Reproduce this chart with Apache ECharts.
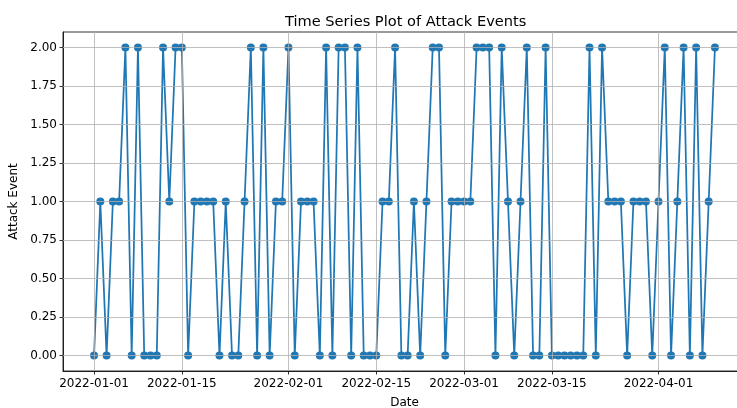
<!DOCTYPE html>
<html>
<head>
<meta charset="utf-8">
<script src="https://cdn.jsdelivr.net/npm/echarts@6/dist/echarts.min.js"></script>
<style>html,body{margin:0;padding:0;background:#fff;overflow:hidden}#c{width:737px;height:408px}</style>
</head>
<body>
<div id="c"></div>
<script>
var startDate = '2022-01-01';
var attackEvents = [0,1,0,1,1,2,0,2,0,0, 0,2,1,2,2,0,1,1,1,1, 0,1,0,0,1,2,0,2,0,1, 1,2,0,1,1,1,0,2,0,2, 2,0,2,0,0,0,1,1,2,0, 0,1,0,1,2,2,0,1,1,1, 1,2,2,2,0,2,1,0,1,2, 0,0,2,0,0,0,0,0,0,2, 0,2,1,1,1,0,1,1,1,0, 1,2,0,1,2,0,2,0,1,2];
var xTickLabels = ['2022-01-01','2022-01-15','2022-02-01','2022-02-15','2022-03-01','2022-03-15','2022-04-01'];
var yTickValues = [0,0.25,0.5,0.75,1,1.25,1.5,1.75,2];

var DAY = 86400000;
function ts(s){var p=s.split('-');return Date.UTC(+p[0],+p[1]-1,+p[2]);}
function fmt(v){var d=new Date(v);function z(n){return (n<10?'0':'')+n;}return d.getUTCFullYear()+'-'+z(d.getUTCMonth()+1)+'-'+z(d.getUTCDate());}
var t0 = ts(startDate);
var data = attackEvents.map(function(v,i){return [t0+i*DAY, v];});
var span = (attackEvents.length-1)*DAY;
var xMin = t0 - 0.05*span, xMax = t0 + span + 0.05*span;
var xTicks = xTickLabels.map(ts);
var font = 'DejaVu Sans';
var fs = 12;
var chart = echarts.init(document.getElementById('c'), null, {renderer:'canvas'});
chart.setOption({
  animation:false,
  title:{text:'Time Series Plot of Attack Events', left:280, top:10,
    textStyle:{fontFamily:font, fontSize:14.6, fontWeight:'normal', color:'#000'}},
  grid:{left:63, top:32, right:-9, bottom:37, outerBoundsMode:'none', containLabel:false,
    show:true, borderColor:'#000', borderWidth:0.8},
  xAxis:{type:'value', min:xMin, max:xMax,
    name:'Date', nameLocation:'middle', nameGap:26,
    nameTextStyle:{fontFamily:font, fontSize:fs, color:'#000'},
    axisLine:{show:true, onZero:false, lineStyle:{color:'#000', width:0.8}},
    axisTick:{show:true, length:3.5, customValues:xTicks, lineStyle:{color:'#000', width:0.8}},
    axisLabel:{customValues:xTicks, formatter:function(v){return fmt(v);}, fontFamily:font, fontSize:fs, color:'#000', margin:7},
    splitLine:{show:false}},
  yAxis:{type:'value', min:-0.1, max:2.1,
    name:'Attack Event', nameLocation:'middle', nameGap:41,
    nameTextStyle:{fontFamily:font, fontSize:fs, color:'#000'},
    axisLine:{show:true, onZero:false, lineStyle:{color:'#000', width:0.8}},
    axisTick:{show:true, length:3.5, customValues:yTickValues, lineStyle:{color:'#000', width:0.8}},
    axisLabel:{customValues:yTickValues, formatter:function(v){return v.toFixed(2);}, fontFamily:font, fontSize:fs, color:'#000', margin:6},
    splitLine:{show:false}},
  series:[
    {type:'line', silent:true, data:[], markLine:{silent:true, symbol:'none', label:{show:false},
      lineStyle:{color:'#b0b0b0', width:0.8, type:'solid'},
      data: xTicks.map(function(t){return {xAxis:t};}).concat(yTickValues.map(function(v){return {yAxis:v};}))}},
    {type:'line', data:data, symbol:'circle', symbolSize:8, showSymbol:true,
      itemStyle:{color:'#1f77b4'}, lineStyle:{color:'#1f77b4', width:1.75}, z:3}
  ]
});
</script>
</body>
</html>
